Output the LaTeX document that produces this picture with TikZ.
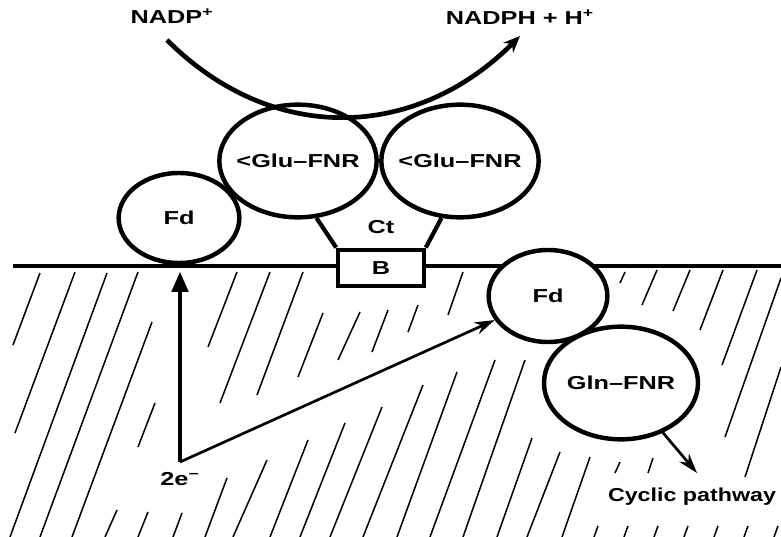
\documentclass[tikz,border=0pt]{standalone}
\usepackage{fontspec}
\usepackage{graphicx}
\usetikzlibrary{shapes.geometric,arrows.meta}
\newfontfamily\lblfont{Liberation Sans}
\newcommand{\wide}[1]{\scalebox{1.35}[1]{#1}}

\begin{document}
\begin{tikzpicture}[x=0.03cm,y=-0.03cm]
  \tikzset{
    prot/.style={ellipse,draw,fill=white,line width=3.8pt,inner sep=0pt,
      font=\lblfont\bfseries\fontsize{16}{18}\selectfont},
    lbl/.style={inner sep=0pt,font=\lblfont\bfseries\fontsize{16}{18}\selectfont},
    hatch/.style={line width=1.3pt},
    elec/.style={line width=2.6pt,-{Triangle[length=0.6cm,width=0.5cm]}},
    push/.style={line width=2.3pt,-{Stealth[length=0.6cm,width=0.38cm]}},
    flux/.style={line width=4pt,-{Stealth[length=0.5cm,width=0.42cm]}}
  }
  \useasboundingbox (0,0) rectangle (781,537);
  % stroma side hatching
  \foreach \xa/\ya/\xb/\yb in {40/273/13/345, 75/272/15/433, 107/273/10/537,
      138/272/40/537, 152/322/72/537, 155/403/138/447, 117/510/105/537,
      148/512/138/537, 182/513/173/537, 227/478/205/537, 267/460/233/537,
      237/272/208/347, 270/272/220/403, 303/272/257/395, 323/313/298/377,
      360/312/338/360, 388/310/372/352, 418/305/408/332, 463/272/448/315,
      308/440/270/537, 345/423/300/537, 382/407/330/537, 423/385/363/537,
      457/372/397/537, 495/360/430/537, 525/360/463/537, 532/438/497/537,
      560/452/527/537, 590/457/562/537, 620/462/615/473, 653/458/648/473,
      625/272/620/283, 657/270/642/305, 690/270/673/311, 723/270/700/330,
      757/270/722/365, 781/278/725/437, 781/367/745/477,
      598/526/594/537, 628/526/624/537, 658/526/654/537, 688/526/684/537,
      718/526/714/537, 748/526/744/537, 778/526/774/537}
    \draw[hatch] (\xa,\ya) -- (\xb,\yb);
  \draw[line width=2.8pt] (13,266) -- (781,266);

  \node[lbl] (nadp) at (172,16) {\wide{NADP\textsuperscript{+}}};
  \node[lbl] (nadph) at (520,17) {\wide{NADPH + H\textsuperscript{+}}};
  \coordinate (nadpin) at (167,40);
  \coordinate (nadpout) at (520,36);

  \node[prot,minimum width=3.62cm,minimum height=2.7cm] (fdL) at (179,218) {\wide{Fd}};
  \node[prot,minimum width=4.72cm,minimum height=3.38cm,
    label={[lbl,name=glu1t]center:\wide{<Glu–FNR}}] (glu1) at (298,161) {};
  \node[prot,minimum width=4.72cm,minimum height=3.38cm,
    label={[lbl,name=glu2t]center:\wide{<Glu–FNR}}] (glu2) at (460,161) {};
  \node[draw,fill=white,line width=3.6pt,minimum width=2.56cm,minimum height=1.1cm,
    inner sep=0pt,font=\lblfont\bfseries\fontsize{16}{18}\selectfont] (bbox) at (381,268) {\wide{B}};
  \draw[line width=3.6pt] (glu1.-72) -- (bbox.north west);
  \draw[line width=3.6pt] (glu2.-108) -- (bbox.north east);
  \node[lbl] (ct) at (381,227) {\wide{Ct}};

  \draw[flux] (nadpin) .. controls (272,145) and (415,141) .. (nadpout);

  \node[prot,minimum width=3.56cm,minimum height=2.76cm] (fdR) at (548,296) {\wide{Fd}};
  \node[prot,minimum width=4.62cm,minimum height=3.38cm,
    label={[lbl,name=glnt]center:\wide{Gln–FNR}}] (gln) at (621,383) {};

  \coordinate (ecore) at (180,462);
  \node[lbl] (etwo) at (180,479) {\wide{2e\textsuperscript{−}}};
  \draw[elec] (ecore) -- ([yshift=-0.2cm]ecore |- fdL.south);
  \draw[push] (ecore) -- (fdR);

  \coordinate (cycend) at (697,473);
  \node[lbl] (cyc) at (692,497) {\scalebox{1.24}[1]{Cyclic pathway}};
  \draw[push] (gln) -- (cycend);
\end{tikzpicture}
\end{document}
